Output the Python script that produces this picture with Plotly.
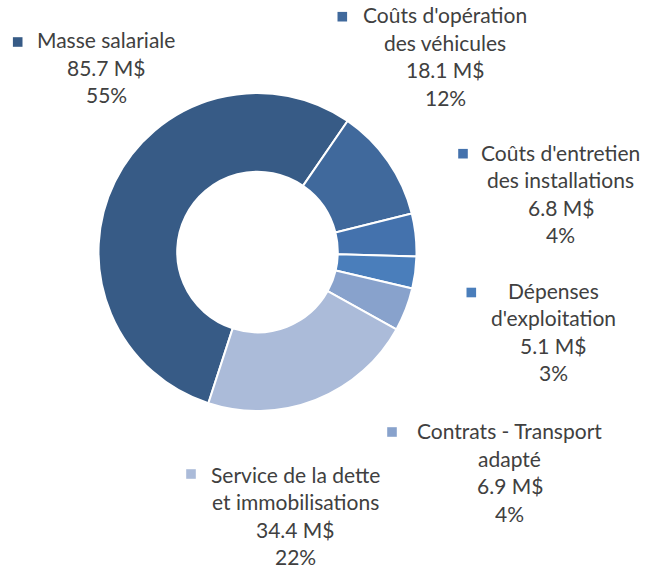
import plotly.graph_objects as go

# ---- data ----
categories = [
    "Masse salariale",
    "Coûts d'opération des véhicules",
    "Coûts d'entretien des installations",
    "Dépenses d'exploitation",
    "Contrats - Transport adapté",
    "Service de la dette et immobilisations",
]
label_lines = [
    ["Masse salariale"],
    ["Coûts d'opération", "des véhicules"],
    ["Coûts d'entretien", "des installations"],
    ["Dépenses", "d'exploitation"],
    ["Contrats - Transport", "adapté"],
    ["Service de la dette", "et immobilisations"],
]
values = [85.7, 18.1, 6.8, 5.1, 6.9, 34.4]

# ---- style ----
colors = ["#375B86", "#40699C", "#4472AD", "#4A7EBB", "#88A2CC", "#ABBBD9"]
W, H = 658, 572
FONT = dict(family="Lato, 'Open Sans', sans-serif", size=21, color="#404040")
LINE_STEP = 27.5
DY = -1.5
# (text center x, first line y, square x, square y) in pixels
label_pos = [
    (106.0, 41.5, 17.7, 42.0),
    (445.0, 16.3, 342.3, 16.7),
    (560.5, 153.7, 463.0, 153.7),
    (553.3, 291.7, 471.3, 292.5),
    (509.7, 432.2, 392.0, 432.0),
    (295.8, 475.8, 191.0, 474.0),
]
CX, CY, R = 257.5, 252.0, 159.0

total = sum(values)

def px(x):
    return x / W

def py(y):
    return 1 - y / H

fig = go.Figure(
    go.Pie(
        labels=categories,
        values=values,
        hole=0.505,
        sort=False,
        direction="clockwise",
        rotation=198,
        textinfo="none",
        hoverinfo="label+value+percent",
        marker=dict(colors=colors, line=dict(color="white", width=2)),
        domain=dict(x=[px(CX - R), px(CX + R)], y=[py(CY + R), py(CY - R)]),
        showlegend=False,
    )
)

annotations = []
shapes = []
for i, (lines, v) in enumerate(zip(label_lines, values)):
    cx, y0, sx, sy = label_pos[i]
    pct = round(v / total * 100)
    all_lines = lines + [f"{v:.1f} M$", f"{pct}%"]
    for k, t in enumerate(all_lines):
        annotations.append(
            dict(
                x=px(cx), y=py(y0 + DY + k * LINE_STEP), xref="paper", yref="paper",
                text=t, showarrow=False, xanchor="center", yanchor="middle",
                font=FONT,
            )
        )
    s = 4.8
    shapes.append(
        dict(
            type="rect", xref="paper", yref="paper",
            x0=px(sx - s), x1=px(sx + s), y0=py(sy + s), y1=py(sy - s),
            fillcolor=colors[i], line=dict(width=0),
        )
    )

fig.update_layout(
    width=W, height=H,
    margin=dict(l=0, r=0, t=0, b=0),
    paper_bgcolor="white", plot_bgcolor="white",
    annotations=annotations, shapes=shapes,
)

fig.write_html(
    "out.html",
    config={"displayModeBar": False},
    post_script="document.body.style.margin='0';",
)
